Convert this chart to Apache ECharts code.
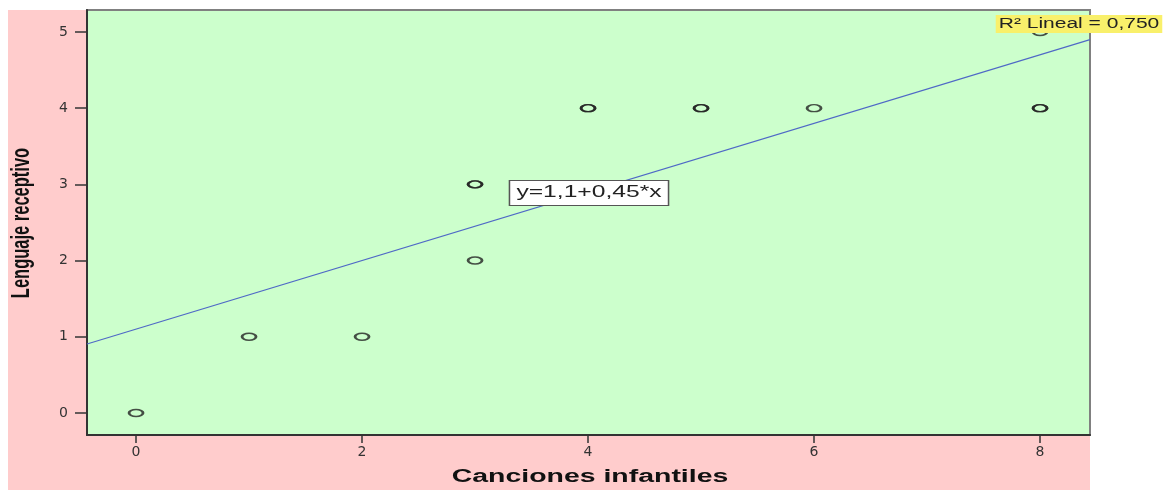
<!DOCTYPE html>
<html>
<head>
<meta charset="utf-8">
<script src="https://cdn.jsdelivr.net/npm/echarts@6/dist/echarts.min.js"></script>
<style>
html,body{margin:0;padding:0;background:#ffffff;}
#chart{width:1172px;height:490px;}
</style>
</head>
<body>
<div id="chart"></div>
<script>
// Data
const cancionesInfantiles = [0, 1, 2, 3, 3, 3, 4, 4, 4, 5, 5, 6, 8, 8, 8];
const lenguajeReceptivo   = [0, 1, 1, 2, 3, 3, 3, 4, 4, 4, 4, 4, 4, 4, 5];
const fitIntercept = 1.1;
const fitSlope = 0.45;
const xTickValues = [0, 2, 4, 6, 8];
const yTickValues = [0, 1, 2, 3, 4, 5];
const xAxisTitle = 'Canciones infantiles';
const yAxisTitle = 'Lenguaje receptivo';
const equationText = 'y=1,1+0,45*x';
const r2Text = 'R² Lineal = 0,750';

const xMin = -0.434, xMax = 8.442;
const yMin = -0.289, yMax = 5.288;

const points = cancionesInfantiles.map((x, i) => [x, lenguajeReceptivo[i]]);
const fitLine = [xMin, xMax].map(x => [x, fitIntercept + fitSlope * x]);

const chart = echarts.init(document.getElementById('chart'), null, {renderer: 'canvas'});

const tickFont = {fontFamily: 'DejaVu Sans', fontSize: 14, color: '#333333'};

chart.setOption({
  animation: false,
  backgroundColor: '#ffffff',
  grid: {
    left: 87, top: 10, right: 82, bottom: 55,
    show: true,
    backgroundColor: '#ccffcc',
    borderColor: '#808080',
    borderWidth: 2
  },
  xAxis: {
    type: 'value',
    min: xMin, max: xMax,
    splitLine: {show: false},
    axisLine: {show: true, onZero: false, lineStyle: {color: '#333333', width: 2}},
    axisTick: {show: true, customValues: xTickValues, length: 8, lineStyle: {color: '#333333', width: 1.5}},
    axisLabel: Object.assign({customValues: xTickValues, margin: 10}, tickFont)
  },
  yAxis: {
    type: 'value',
    min: yMin, max: yMax,
    splitLine: {show: false},
    axisLine: {show: true, onZero: false, lineStyle: {color: '#333333', width: 2}},
    axisTick: {show: true, customValues: yTickValues, length: 12, lineStyle: {color: '#333333', width: 1.5}},
    axisLabel: Object.assign({customValues: yTickValues, margin: 19}, tickFont)
  },
  series: [
    {
      type: 'line',
      data: fitLine,
      symbol: 'none',
      lineStyle: {color: '#4f69c6', width: 1.2},
      silent: true,
      z: 2
    },
    {
      type: 'scatter',
      data: points,
      symbol: 'circle',
      symbolSize: [14, 7],
      itemStyle: {color: 'rgba(0,0,0,0)', borderColor: '#222222', borderWidth: 2},
      silent: true,
      z: 3
    }
  ],
  graphic: [
    {
      type: 'rect', z: -100, silent: true,
      shape: {x: 8, y: 10, width: 1082, height: 480},
      style: {fill: '#ffcccc'}
    },
    {
      type: 'text', z: 100, silent: true,
      x: 22, y: 223, rotation: Math.PI / 2, scaleX: 0.97, scaleY: 1.5,
      style: {text: yAxisTitle, fontFamily: 'Liberation Sans', fontWeight: 'bold', fontSize: 17,
              fill: '#111111', align: 'center', verticalAlign: 'middle'}
    },
    {
      type: 'text', z: 100, silent: true,
      x: 590, y: 477, scaleX: 1.58,
      style: {text: xAxisTitle, fontFamily: 'Liberation Sans', fontWeight: 'bold', fontSize: 18,
              fill: '#111111', align: 'center', verticalAlign: 'middle'}
    },
    {
      type: 'text', z: 100, silent: true,
      x: 589, y: 193, scaleX: 1.54,
      style: {text: equationText, fontFamily: 'Liberation Sans', fontSize: 16,
              fill: '#222222', align: 'center', verticalAlign: 'middle',
              backgroundColor: '#ffffff', borderColor: '#555555', borderWidth: 1, padding: [4, 4]}
    },
    {
      type: 'text', z: 100, silent: true,
      x: 1079, y: 24, scaleX: 1.5,
      style: {text: r2Text, fontFamily: 'Liberation Sans', fontSize: 14,
              fill: '#222222', align: 'center', verticalAlign: 'middle',
              backgroundColor: '#f9f06b', padding: [2, 2]}
    }
  ]
});
</script>
</body>
</html>
